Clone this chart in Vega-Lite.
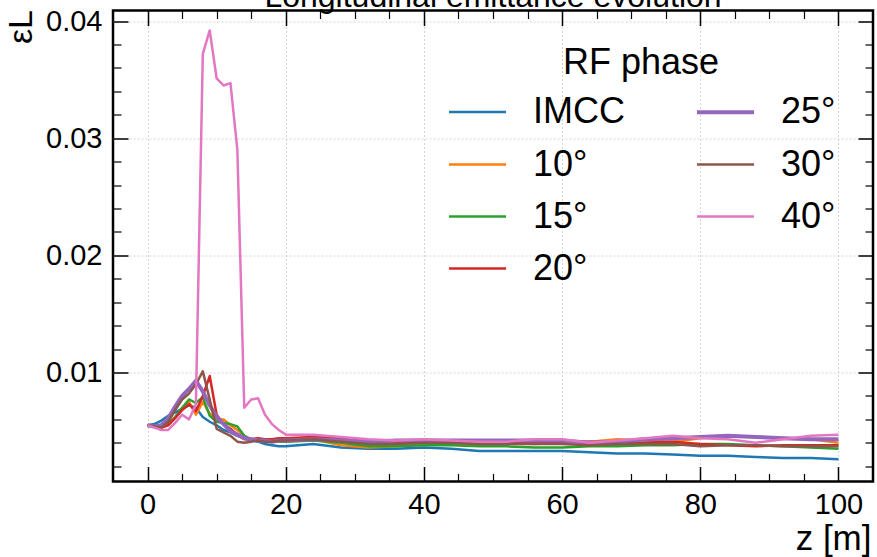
{
  "$schema": "https://vega.github.io/schema/vega-lite/v6.json",
  "width": 760,
  "height": 471,
  "autosize": {"type": "none"},
  "padding": {"left": 113, "top": 10.5, "right": 4, "bottom": 75},
  "background": "white",
  "title": {"text": "Longitudinal emittance evolution", "fontSize": 32, "fontWeight": "normal", "font": "Liberation Sans", "anchor": "middle", "offset": 2, "dy": 9, "color": "black"},
  "config": {
    "font": "Liberation Sans",
    "view": {"stroke": "black", "strokeWidth": 2.5},
    "axis": {"labelColor": "black", "titleColor": "black", "labelFont": "Liberation Sans", "titleFont": "Liberation Sans"}
  },
  "datasets": {
    "emit": [
      {"phase":"IMCC","z":0,"eps":0.0055},{"phase":"IMCC","z":1,"eps":0.0056},{"phase":"IMCC","z":2,"eps":0.0059},{"phase":"IMCC","z":3,"eps":0.0063},{"phase":"IMCC","z":4,"eps":0.0066},{"phase":"IMCC","z":5,"eps":0.0069},{"phase":"IMCC","z":6,"eps":0.0072},{"phase":"IMCC","z":7,"eps":0.0070},{"phase":"IMCC","z":8,"eps":0.0062},{"phase":"IMCC","z":9,"eps":0.0058},{"phase":"IMCC","z":10,"eps":0.0055},{"phase":"IMCC","z":11,"eps":0.0051},{"phase":"IMCC","z":12,"eps":0.0049},{"phase":"IMCC","z":13,"eps":0.0046},{"phase":"IMCC","z":14,"eps":0.0044},{"phase":"IMCC","z":15,"eps":0.0042},{"phase":"IMCC","z":16,"eps":0.0041},{"phase":"IMCC","z":17,"eps":0.0039},{"phase":"IMCC","z":18,"eps":0.0038},{"phase":"IMCC","z":19,"eps":0.0037},{"phase":"IMCC","z":20,"eps":0.0037},
      {"phase":"IMCC","z":24,"eps":0.0039},{"phase":"IMCC","z":28,"eps":0.0036},{"phase":"IMCC","z":32,"eps":0.0035},{"phase":"IMCC","z":36,"eps":0.0035},{"phase":"IMCC","z":40,"eps":0.0036},{"phase":"IMCC","z":44,"eps":0.0035},{"phase":"IMCC","z":48,"eps":0.0033},{"phase":"IMCC","z":52,"eps":0.0033},{"phase":"IMCC","z":56,"eps":0.0033},{"phase":"IMCC","z":60,"eps":0.0033},{"phase":"IMCC","z":64,"eps":0.0032},{"phase":"IMCC","z":68,"eps":0.0031},{"phase":"IMCC","z":72,"eps":0.0031},{"phase":"IMCC","z":76,"eps":0.0030},{"phase":"IMCC","z":80,"eps":0.0029},{"phase":"IMCC","z":84,"eps":0.0029},{"phase":"IMCC","z":88,"eps":0.0028},{"phase":"IMCC","z":92,"eps":0.0027},{"phase":"IMCC","z":96,"eps":0.0027},{"phase":"IMCC","z":100,"eps":0.0026},

      {"phase":"10°","z":0,"eps":0.0055},{"phase":"10°","z":1,"eps":0.0054},{"phase":"10°","z":2,"eps":0.0053},{"phase":"10°","z":3,"eps":0.0056},{"phase":"10°","z":4,"eps":0.0062},{"phase":"10°","z":5,"eps":0.0068},{"phase":"10°","z":6,"eps":0.0075},{"phase":"10°","z":7,"eps":0.0064},{"phase":"10°","z":8,"eps":0.0075},{"phase":"10°","z":9,"eps":0.0065},{"phase":"10°","z":10,"eps":0.0060},{"phase":"10°","z":11,"eps":0.0060},{"phase":"10°","z":12,"eps":0.0055},{"phase":"10°","z":13,"eps":0.0051},{"phase":"10°","z":14,"eps":0.0046},{"phase":"10°","z":15,"eps":0.0043},{"phase":"10°","z":16,"eps":0.0043},{"phase":"10°","z":17,"eps":0.0042},{"phase":"10°","z":18,"eps":0.0042},{"phase":"10°","z":19,"eps":0.0041},{"phase":"10°","z":20,"eps":0.0042},
      {"phase":"10°","z":24,"eps":0.0043},{"phase":"10°","z":28,"eps":0.0038},{"phase":"10°","z":32,"eps":0.0036},{"phase":"10°","z":36,"eps":0.0037},{"phase":"10°","z":40,"eps":0.0039},{"phase":"10°","z":44,"eps":0.0039},{"phase":"10°","z":48,"eps":0.0039},{"phase":"10°","z":52,"eps":0.0040},{"phase":"10°","z":56,"eps":0.0039},{"phase":"10°","z":60,"eps":0.0040},{"phase":"10°","z":64,"eps":0.0041},{"phase":"10°","z":68,"eps":0.0043},{"phase":"10°","z":72,"eps":0.0042},{"phase":"10°","z":76,"eps":0.0041},{"phase":"10°","z":80,"eps":0.0044},{"phase":"10°","z":84,"eps":0.0046},{"phase":"10°","z":88,"eps":0.0045},{"phase":"10°","z":92,"eps":0.0044},{"phase":"10°","z":96,"eps":0.0043},{"phase":"10°","z":100,"eps":0.0040},

      {"phase":"15°","z":0,"eps":0.0055},{"phase":"15°","z":1,"eps":0.0054},{"phase":"15°","z":2,"eps":0.0053},{"phase":"15°","z":3,"eps":0.0056},{"phase":"15°","z":4,"eps":0.0062},{"phase":"15°","z":5,"eps":0.0070},{"phase":"15°","z":6,"eps":0.0077},{"phase":"15°","z":7,"eps":0.0074},{"phase":"15°","z":8,"eps":0.0079},{"phase":"15°","z":9,"eps":0.0063},{"phase":"15°","z":10,"eps":0.0058},{"phase":"15°","z":11,"eps":0.0057},{"phase":"15°","z":12,"eps":0.0056},{"phase":"15°","z":13,"eps":0.0054},{"phase":"15°","z":14,"eps":0.0046},{"phase":"15°","z":15,"eps":0.0043},{"phase":"15°","z":16,"eps":0.0042},{"phase":"15°","z":17,"eps":0.0042},{"phase":"15°","z":18,"eps":0.0041},{"phase":"15°","z":19,"eps":0.0041},{"phase":"15°","z":20,"eps":0.0041},
      {"phase":"15°","z":24,"eps":0.0042},{"phase":"15°","z":28,"eps":0.0040},{"phase":"15°","z":32,"eps":0.0037},{"phase":"15°","z":36,"eps":0.0037},{"phase":"15°","z":40,"eps":0.0038},{"phase":"15°","z":44,"eps":0.0038},{"phase":"15°","z":48,"eps":0.0037},{"phase":"15°","z":52,"eps":0.0037},{"phase":"15°","z":56,"eps":0.0036},{"phase":"15°","z":60,"eps":0.0036},{"phase":"15°","z":64,"eps":0.0037},{"phase":"15°","z":68,"eps":0.0037},{"phase":"15°","z":72,"eps":0.0038},{"phase":"15°","z":76,"eps":0.0038},{"phase":"15°","z":80,"eps":0.0039},{"phase":"15°","z":84,"eps":0.0039},{"phase":"15°","z":88,"eps":0.0038},{"phase":"15°","z":92,"eps":0.0037},{"phase":"15°","z":96,"eps":0.0036},{"phase":"15°","z":100,"eps":0.0035},

      {"phase":"20°","z":0,"eps":0.0055},{"phase":"20°","z":1,"eps":0.0054},{"phase":"20°","z":2,"eps":0.0053},{"phase":"20°","z":3,"eps":0.0055},{"phase":"20°","z":4,"eps":0.0061},{"phase":"20°","z":5,"eps":0.0068},{"phase":"20°","z":6,"eps":0.0073},{"phase":"20°","z":7,"eps":0.0067},{"phase":"20°","z":8,"eps":0.0080},{"phase":"20°","z":9,"eps":0.0097},{"phase":"20°","z":10,"eps":0.0064},{"phase":"20°","z":11,"eps":0.0056},{"phase":"20°","z":12,"eps":0.0052},{"phase":"20°","z":13,"eps":0.0047},{"phase":"20°","z":14,"eps":0.0043},{"phase":"20°","z":15,"eps":0.0043},{"phase":"20°","z":16,"eps":0.0044},{"phase":"20°","z":17,"eps":0.0043},{"phase":"20°","z":18,"eps":0.0043},{"phase":"20°","z":19,"eps":0.0044},{"phase":"20°","z":20,"eps":0.0044},
      {"phase":"20°","z":24,"eps":0.0045},{"phase":"20°","z":28,"eps":0.0044},{"phase":"20°","z":32,"eps":0.0042},{"phase":"20°","z":36,"eps":0.0041},{"phase":"20°","z":40,"eps":0.0041},{"phase":"20°","z":44,"eps":0.0040},{"phase":"20°","z":48,"eps":0.0041},{"phase":"20°","z":52,"eps":0.0040},{"phase":"20°","z":56,"eps":0.0040},{"phase":"20°","z":60,"eps":0.0041},{"phase":"20°","z":64,"eps":0.0041},{"phase":"20°","z":68,"eps":0.0040},{"phase":"20°","z":72,"eps":0.0040},{"phase":"20°","z":76,"eps":0.0041},{"phase":"20°","z":80,"eps":0.0039},{"phase":"20°","z":84,"eps":0.0038},{"phase":"20°","z":88,"eps":0.0037},{"phase":"20°","z":92,"eps":0.0038},{"phase":"20°","z":96,"eps":0.0038},{"phase":"20°","z":100,"eps":0.0038},

      {"phase":"25°","z":0,"eps":0.0055},{"phase":"25°","z":1,"eps":0.0054},{"phase":"25°","z":2,"eps":0.0055},{"phase":"25°","z":3,"eps":0.0061},{"phase":"25°","z":4,"eps":0.0071},{"phase":"25°","z":5,"eps":0.0080},{"phase":"25°","z":6,"eps":0.0086},{"phase":"25°","z":7,"eps":0.0093},{"phase":"25°","z":8,"eps":0.0084},{"phase":"25°","z":9,"eps":0.0072},{"phase":"25°","z":10,"eps":0.0062},{"phase":"25°","z":11,"eps":0.0056},{"phase":"25°","z":12,"eps":0.0050},{"phase":"25°","z":13,"eps":0.0047},{"phase":"25°","z":14,"eps":0.0044},{"phase":"25°","z":15,"eps":0.0043},{"phase":"25°","z":16,"eps":0.0042},{"phase":"25°","z":17,"eps":0.0042},{"phase":"25°","z":18,"eps":0.0041},{"phase":"25°","z":19,"eps":0.0042},{"phase":"25°","z":20,"eps":0.0042},
      {"phase":"25°","z":24,"eps":0.0043},{"phase":"25°","z":28,"eps":0.0042},{"phase":"25°","z":32,"eps":0.0041},{"phase":"25°","z":36,"eps":0.0042},{"phase":"25°","z":40,"eps":0.0042},{"phase":"25°","z":44,"eps":0.0042},{"phase":"25°","z":48,"eps":0.0042},{"phase":"25°","z":52,"eps":0.0042},{"phase":"25°","z":56,"eps":0.0042},{"phase":"25°","z":60,"eps":0.0042},{"phase":"25°","z":64,"eps":0.0040},{"phase":"25°","z":68,"eps":0.0041},{"phase":"25°","z":72,"eps":0.0043},{"phase":"25°","z":76,"eps":0.0044},{"phase":"25°","z":80,"eps":0.0045},{"phase":"25°","z":84,"eps":0.0046},{"phase":"25°","z":88,"eps":0.0045},{"phase":"25°","z":92,"eps":0.0044},{"phase":"25°","z":96,"eps":0.0043},{"phase":"25°","z":100,"eps":0.0043},

      {"phase":"30°","z":0,"eps":0.0055},{"phase":"30°","z":1,"eps":0.0054},{"phase":"30°","z":2,"eps":0.0053},{"phase":"30°","z":3,"eps":0.0058},{"phase":"30°","z":4,"eps":0.0068},{"phase":"30°","z":5,"eps":0.0077},{"phase":"30°","z":6,"eps":0.0082},{"phase":"30°","z":7,"eps":0.0090},{"phase":"30°","z":8,"eps":0.0101},{"phase":"30°","z":9,"eps":0.0077},{"phase":"30°","z":10,"eps":0.0052},{"phase":"30°","z":11,"eps":0.0049},{"phase":"30°","z":12,"eps":0.0046},{"phase":"30°","z":13,"eps":0.0041},{"phase":"30°","z":14,"eps":0.0040},{"phase":"30°","z":15,"eps":0.0041},{"phase":"30°","z":16,"eps":0.0042},{"phase":"30°","z":17,"eps":0.0041},{"phase":"30°","z":18,"eps":0.0041},{"phase":"30°","z":19,"eps":0.0042},{"phase":"30°","z":20,"eps":0.0042},
      {"phase":"30°","z":24,"eps":0.0043},{"phase":"30°","z":28,"eps":0.0041},{"phase":"30°","z":32,"eps":0.0039},{"phase":"30°","z":36,"eps":0.0039},{"phase":"30°","z":40,"eps":0.0040},{"phase":"30°","z":44,"eps":0.0040},{"phase":"30°","z":48,"eps":0.0039},{"phase":"30°","z":52,"eps":0.0039},{"phase":"30°","z":56,"eps":0.0039},{"phase":"30°","z":60,"eps":0.0039},{"phase":"30°","z":64,"eps":0.0038},{"phase":"30°","z":68,"eps":0.0039},{"phase":"30°","z":72,"eps":0.0039},{"phase":"30°","z":76,"eps":0.0039},{"phase":"30°","z":80,"eps":0.0037},{"phase":"30°","z":84,"eps":0.0038},{"phase":"30°","z":88,"eps":0.0038},{"phase":"30°","z":92,"eps":0.0037},{"phase":"30°","z":96,"eps":0.0037},{"phase":"30°","z":100,"eps":0.0037},

      {"phase":"40°","z":0,"eps":0.0055},{"phase":"40°","z":1,"eps":0.0053},{"phase":"40°","z":2,"eps":0.0051},{"phase":"40°","z":3,"eps":0.0051},{"phase":"40°","z":4,"eps":0.0057},{"phase":"40°","z":5,"eps":0.0064},{"phase":"40°","z":6,"eps":0.0060},{"phase":"40°","z":7,"eps":0.0073},{"phase":"40°","z":8,"eps":0.0372},{"phase":"40°","z":9,"eps":0.0392},{"phase":"40°","z":10,"eps":0.0351},{"phase":"40°","z":11,"eps":0.0345},{"phase":"40°","z":12,"eps":0.0347},{"phase":"40°","z":13,"eps":0.0290},{"phase":"40°","z":14,"eps":0.0070},{"phase":"40°","z":15,"eps":0.0077},{"phase":"40°","z":16,"eps":0.0078},{"phase":"40°","z":17,"eps":0.0064},{"phase":"40°","z":18,"eps":0.0056},{"phase":"40°","z":19,"eps":0.0051},{"phase":"40°","z":20,"eps":0.0047},
      {"phase":"40°","z":24,"eps":0.0047},{"phase":"40°","z":28,"eps":0.0045},{"phase":"40°","z":32,"eps":0.0043},{"phase":"40°","z":36,"eps":0.0042},{"phase":"40°","z":40,"eps":0.0043},{"phase":"40°","z":44,"eps":0.0042},{"phase":"40°","z":48,"eps":0.0041},{"phase":"40°","z":52,"eps":0.0041},{"phase":"40°","z":56,"eps":0.0043},{"phase":"40°","z":60,"eps":0.0043},{"phase":"40°","z":64,"eps":0.0040},{"phase":"40°","z":68,"eps":0.0042},{"phase":"40°","z":72,"eps":0.0044},{"phase":"40°","z":76,"eps":0.0046},{"phase":"40°","z":80,"eps":0.0044},{"phase":"40°","z":84,"eps":0.0043},{"phase":"40°","z":88,"eps":0.0040},{"phase":"40°","z":92,"eps":0.0043},{"phase":"40°","z":96,"eps":0.0046},{"phase":"40°","z":100,"eps":0.0047}
    ]
  },
  "data": {"name": "emit"},
  "resolve": {"axis": {"x": "independent", "y": "independent"}},
  "layer": [
    {
      "mark": {"type": "line", "strokeJoin": "round"},
      "encoding": {
        "x": {"field": "z", "type": "quantitative", "scale": {"domain": [-5, 105], "nice": false, "zero": false},
          "axis": {"orient": "bottom", "values": [0, 20, 40, 60, 80, 100], "ticks": false, "domain": false, "grid": true, "gridDash": [2, 2], "gridColor": "#d4d4d4", "gridWidth": 1, "labelFontSize": 29, "labelPadding": 9, "labelFlush": false, "title": "z [m]", "titleFontSize": 35, "titleFontWeight": "normal", "titleAlign": "right", "titleBaseline": "top", "titleX": 758, "titleY": 40}},
        "y": {"field": "eps", "type": "quantitative", "scale": {"domain": [0.0007, 0.0409], "nice": false, "zero": false},
          "axis": {"orient": "left", "values": [0.01, 0.02, 0.03, 0.04], "format": ".2f", "ticks": false, "domain": false, "grid": true, "gridDash": [2, 2], "gridColor": "#d4d4d4", "gridWidth": 1, "labelFontSize": 29, "labelPadding": 11, "labelFlush": false, "title": "εL", "titleFontSize": 34, "titleFontWeight": "normal", "titleAngle": 270, "titleAlign": "right", "titleBaseline": "alphabetic", "titleX": -82, "titleY": -1}},
        "color": {"field": "phase", "type": "nominal",
          "scale": {"domain": ["IMCC", "10°", "15°", "20°", "25°", "30°", "40°"], "range": ["#1f77b4", "#ff7f0e", "#2ca02c", "#d62728", "#9467bd", "#8c564b", "#e377c2"]},
          "legend": {"title": "RF phase", "orient": "none", "legendX": 334, "legendY": 35, "columns": 2, "padding": 0, "titleFontSize": 36, "titleFontWeight": "normal", "titleColor": "black", "titleAnchor": "middle", "titlePadding": 0, "labelFontSize": 36, "labelColor": "black", "labelOffset": 25, "labelLimit": 0, "symbolType": "stroke", "symbolSize": 3249, "symbolStrokeWidth": 3, "rowPadding": 4, "columnPadding": 64}},
        "strokeWidth": {"field": "phase", "type": "nominal", "legend": null,
          "scale": {"type": "ordinal", "domain": ["IMCC", "10°", "15°", "20°", "25°", "30°", "40°"], "range": [2.5, 2.5, 2.5, 2.5, 4, 2.5, 2.5]}}
      }
    },
    {
      "mark": {"type": "line", "opacity": 0},
      "encoding": {
        "x": {"field": "z", "type": "quantitative", "axis": {"orient": "bottom", "values": [0, 20, 40, 60, 80, 100], "labels": false, "grid": false, "domain": false, "ticks": true, "tickSize": -15, "tickWidth": 1.5, "tickColor": "black", "title": null}},
        "y": {"field": "eps", "type": "quantitative", "axis": {"orient": "left", "values": [0.01, 0.02, 0.03, 0.04], "labels": false, "grid": false, "domain": false, "ticks": true, "tickSize": -15, "tickWidth": 1.5, "tickColor": "black", "title": null}}
      }
    },
    {
      "mark": {"type": "line", "opacity": 0},
      "encoding": {
        "x": {"field": "z", "type": "quantitative", "axis": {"orient": "bottom", "values": [5, 10, 15, 25, 30, 35, 45, 50, 55, 65, 70, 75, 85, 90, 95], "labels": false, "grid": false, "domain": false, "ticks": true, "tickSize": -8, "tickWidth": 1.2, "tickColor": "black", "title": null}},
        "y": {"field": "eps", "type": "quantitative", "axis": {"orient": "left", "values": [0.002, 0.004, 0.006, 0.008, 0.012, 0.014, 0.016, 0.018, 0.022, 0.024, 0.026, 0.028, 0.032, 0.034, 0.036, 0.038], "labels": false, "grid": false, "domain": false, "ticks": true, "tickSize": -8, "tickWidth": 1.2, "tickColor": "black", "title": null}}
      }
    },
    {
      "mark": {"type": "line", "opacity": 0},
      "encoding": {
        "x": {"field": "z", "type": "quantitative", "axis": {"orient": "top", "values": [0, 20, 40, 60, 80, 100], "labels": false, "grid": false, "domain": false, "ticks": true, "tickSize": -15, "tickWidth": 1.5, "tickColor": "black", "title": null}},
        "y": {"field": "eps", "type": "quantitative", "axis": {"orient": "right", "values": [0.01, 0.02, 0.03, 0.04], "labels": false, "grid": false, "domain": false, "ticks": true, "tickSize": -15, "tickWidth": 1.5, "tickColor": "black", "title": null}}
      }
    },
    {
      "mark": {"type": "line", "opacity": 0},
      "encoding": {
        "x": {"field": "z", "type": "quantitative", "axis": {"orient": "top", "values": [5, 10, 15, 25, 30, 35, 45, 50, 55, 65, 70, 75, 85, 90, 95], "labels": false, "grid": false, "domain": false, "ticks": true, "tickSize": -8, "tickWidth": 1.2, "tickColor": "black", "title": null}},
        "y": {"field": "eps", "type": "quantitative", "axis": {"orient": "right", "values": [0.002, 0.004, 0.006, 0.008, 0.012, 0.014, 0.016, 0.018, 0.022, 0.024, 0.026, 0.028, 0.032, 0.034, 0.036, 0.038], "labels": false, "grid": false, "domain": false, "ticks": true, "tickSize": -8, "tickWidth": 1.2, "tickColor": "black", "title": null}}
      }
    }
  ]
}
